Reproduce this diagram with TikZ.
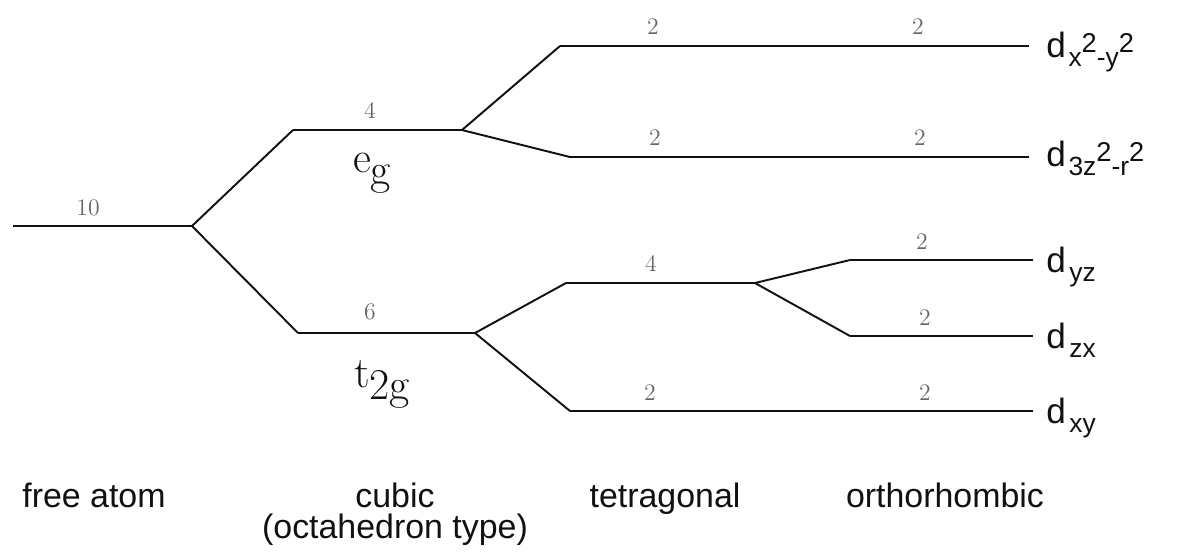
\documentclass[tikz,border=0pt]{standalone}
\usepackage{fontspec}
\setsansfont{Liberation Sans}
\usetikzlibrary{positioning, calc}
\definecolor{ink}{HTML}{111111}
\definecolor{mute}{HTML}{666666}
\tikzset{
  level/.style      = {draw=ink, line width=1.6pt},
  split/.style      = {draw=ink, line width=1.1pt},
  deg/.style        = {font=\fontsize{13.5}{13.5}\selectfont, text=mute, inner sep=0pt, anchor=base},
  irrep/.style      = {font=\fontsize{25}{25}\selectfont, text=ink, inner sep=0pt, anchor=base},
  orbital/.style    = {font=\sffamily\fontsize{20}{20}\selectfont, text=ink, inner sep=0pt, anchor=base west},
  stagelabel/.style = {font=\sffamily\fontsize{19.3}{17.6}\selectfont, text=ink, align=center,
                       inner sep=0pt, anchor=base},
}
\newcommand{\lowsub}[1]{\raisebox{-0.28em}{#1}}
\newcommand{\orbsub}[1]{\raisebox{-5.5pt}{\fontsize{15}{15}\selectfont #1}}
\newcommand{\orbsq}{\raisebox{2.4pt}{\fontsize{15.5}{15.5}\selectfont 2}}

\begin{document}
\begin{tikzpicture}[x=0.02cm, y=-0.02cm]
  \useasboundingbox (0,0) rectangle (1194,556);

  \coordinate (free0) at (13,226);   \coordinate (free1) at (192,226);
  \coordinate (eg0)   at (293,130);  \coordinate (eg1)   at (462,130);
  \coordinate (tg0)   at (298,333);  \coordinate (tg1)   at (475,333);
  \coordinate (xx0)   at (560,46);   \coordinate (xx1)   at (1029,46);
  \coordinate (zz0)   at (570,157);  \coordinate (zz1)   at (1029,157);
  \coordinate (yzx0)  at (566,283);  \coordinate (yzx1)  at (755,283);
  \coordinate (xy0)   at (570,411);  \coordinate (xy1)   at (1033,411);
  \coordinate (yz0)   at (850,260);  \coordinate (yz1)   at (1033,260);
  \coordinate (zx0)   at (850,336);  \coordinate (zx1)   at (1033,336);

  \draw[level] (free0) -- (free1);
  \draw[split] (free1) -- (eg0);
  \draw[split] (free1) -- (tg0);
  \draw[level] (eg0) -- (eg1);
  \draw[level] (tg0) -- (tg1);
  \draw[split] (eg1) -- (xx0);
  \draw[split] (eg1) -- (zz0);
  \draw[split] (tg1) -- (yzx0);
  \draw[split] (tg1) -- (xy0);
  \draw[level] (xx0) -- (xx1);
  \draw[level] (zz0) -- (zz1);
  \draw[level] (yzx0) -- (yzx1);
  \draw[level] (xy0) -- (xy1);
  \draw[split] (yzx1) -- (yz0);
  \draw[split] (yzx1) -- (zx0);
  \draw[level] (yz0) -- (yz1);
  \draw[level] (zx0) -- (zx1);

  \node[deg] (n10)  at (88,215)  {10};
  \node[deg] (n4)   at (370,118) {4};
  \node[deg] (n6)   at (370,319) {6};
  \node[deg] (n2a)  at (653,34)  {2};
  \node[deg] (n2b)  at (918,34)  {2};
  \node[deg] (n2c)  at (655,145) {2};
  \node[deg] (n2d)  at (920,145) {2};
  \node[deg] (n4b)  at (651,271) {4};
  \node[deg] (n2e)  at (922,249) {2};
  \node[deg] (n2f)  at (925,325) {2};
  \node[deg] (n2g)  at (650,400) {2};
  \node[deg] (n2h)  at (925,400) {2};

  \node[irrep] (eg)  at (372,172) {e\lowsub{g}};
  \node[irrep] (t2g) at (382,387) {t\lowsub{2g}};

  \node[orbital] (dx2y2)  at (1046,57)  {d\hspace{1.5pt}\orbsub{x}\orbsq\orbsub{-y}\orbsq};
  \node[orbital] (d3z2r2) at (1046,166) {d\hspace{1.5pt}\orbsub{3z}\orbsq\orbsub{-r}\orbsq};
  \node[orbital] (dyz)    at (1046,272) {d\hspace{2pt}\orbsub{yz}};
  \node[orbital] (dzx)    at (1046,348) {d\hspace{2pt}\orbsub{zx}};
  \node[orbital] (dxy)    at (1046,423) {d\hspace{2pt}\orbsub{xy}};

  \node[stagelabel] (free)  at (94,507)  {free atom};
  \node[stagelabel] (cubic) at (395,538) {cubic\\(octahedron type)};
  \node[stagelabel] (tetra) at (665,507) {tetragonal};
  \node[stagelabel] (ortho) at (945,507) {orthorhombic};
\end{tikzpicture}
\end{document}
